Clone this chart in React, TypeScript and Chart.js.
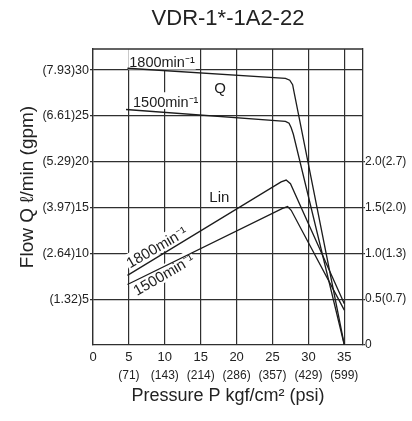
import React, { useEffect, useRef } from 'react';
import { Chart, registerables } from 'chart.js';

Chart.register(...registerables);

// ---- data ----
const pressureTicks = [0, 5, 10, 15, 20, 25, 30, 35];
const pressureLabels = ['0', '5', '10', '15', '20', '25', '30', '35'];
const psiLabels = ['', '(71)', '(143)', '(214)', '(286)', '(357)', '(429)', '(599)'];
const flowTicks = [5, 10, 15, 20, 25, 30];
const flowLabels = ['(1.32)5', '(2.64)10', '(3.97)15', '(5.29)20', '(6.61)25', '(7.93)30'];
const powerTicks = [0, 0.5, 1.0, 1.5, 2.0];
const powerLabels = ['0', '0.5(0.7)', '1.0(1.3)', '1.5(2.0)', '2.0(2.7)'];

// Flow Q (L/min) vs pressure (kgf/cm2)
const q1800P = [4.8, 26.8, 27.4, 27.8, 28.0, 35];
const q1800Q = [30.2, 29.1, 28.9, 28.4, 27.6, 0];
const q1500P = [4.6, 26.8, 27.3, 27.6, 27.9, 35];
const q1500Q = [25.7, 24.4, 24.2, 23.7, 23.0, 0];
// Input power Lin (kW) vs pressure
const lin1800P = [4.8, 26.2, 26.9, 27.5, 35];
const lin1800W = [0.76, 1.78, 1.8, 1.76, 0.45];
const lin1500P = [4.8, 26.4, 27.1, 27.6, 35];
const lin1500W = [0.66, 1.49, 1.51, 1.47, 0.38];

const X_MAX = 37.6;
const Y_MAX = 32.3;

const FONT = "'Liberation Sans', Arial, Helvetica, sans-serif";
const NARROW = "'Liberation Sans Narrow', 'Arial Narrow', 'Liberation Sans', Arial, sans-serif";
const INK = '#1c1c1c';
const GRID = '#2f2f2f';

const curveLabels = [
  { text: '1800min⁻¹', x: 5.05, y: 30.3, angle: 0, size: 14.5, bgTop: 1.3 },
  { text: '1500min⁻¹', x: 5.57, y: 26.0, angle: 0, size: 14.5, bgTop: 1.0 },
  { text: 'Q', x: 16.9, y: 27.5, angle: 0, size: 15, bgTop: 0.9 },
  { text: 'Lin', x: 16.2, y: 15.6, angle: 0, size: 15, bgTop: 0.9 },
  { text: '1800min⁻¹', x: 5.15, y: 8.35, angle: 30, size: 15, bgTop: 0.95 },
  { text: '1500min⁻¹', x: 6.13, y: 5.35, angle: 30, size: 15, bgTop: 0.95 },
];

const pts = (xs: number[], ys: number[]) => xs.map((x, i) => ({ x, y: ys[i] }));

const decorPlugin = {
  id: 'decor',
  beforeDatasetsDraw(chart: any) {
    const { ctx, chartArea, scales } = chart;
    ctx.save();
    for (const a of curveLabels) {
      const px = scales.x.getPixelForValue(a.x);
      const py = scales.y.getPixelForValue(a.y);
      ctx.save();
      ctx.translate(px, py);
      ctx.rotate((-a.angle * Math.PI) / 180);
      ctx.font = `${a.size}px ${NARROW}`;
      const w = ctx.measureText(a.text).width;
      ctx.fillStyle = '#ffffff';
      ctx.fillRect(-1, -a.size * a.bgTop, w + 2, a.size * (a.bgTop + 0.15));
      ctx.fillStyle = INK;
      ctx.textBaseline = 'alphabetic';
      ctx.textAlign = 'left';
      ctx.fillText(a.text, 0, 0);
      ctx.restore();
    }
    ctx.strokeStyle = GRID;
    ctx.lineWidth = 1.3;
    ctx.beginPath();
    ctx.moveTo(chartArea.left, chartArea.top);
    ctx.lineTo(chartArea.right, chartArea.top);
    ctx.stroke();
    ctx.restore();
  },
  afterDraw(chart: any) {
    const { ctx, chartArea } = chart;
    ctx.save();
    ctx.fillStyle = '#222';
    ctx.font = `22px ${FONT}`;
    ctx.textAlign = 'center';
    ctx.textBaseline = 'alphabetic';
    ctx.fillText('VDR-1*-1A2-22', (chartArea.left + chartArea.right) / 2, 25);
    ctx.translate(27.5, 187);
    ctx.rotate(-Math.PI / 2);
    ctx.font = `19px ${FONT}`;
    ctx.textBaseline = 'middle';
    ctx.fillText('Flow Q ℓ/min (gpm)', 0, 0);
    ctx.restore();
  },
};

export default function App() {
  const ref = useRef<HTMLCanvasElement | null>(null);
  useEffect(() => {
    if (!ref.current) return;
    const lineStyle = {
      borderColor: INK,
      borderWidth: 1.3,
      pointRadius: 0,
      tension: 0,
      fill: false,
    };
    const chart = new Chart(ref.current, {
      type: 'line',
      data: {
        datasets: [
          { label: 'Q 1800', data: pts(q1800P, q1800Q), yAxisID: 'y', ...lineStyle },
          { label: 'Q 1500', data: pts(q1500P, q1500Q), yAxisID: 'y', ...lineStyle },
          { label: 'Lin 1800', data: pts(lin1800P, lin1800W), yAxisID: 'y2', ...lineStyle },
          { label: 'Lin 1500', data: pts(lin1500P, lin1500W), yAxisID: 'y2', ...lineStyle },
        ],
      },
      options: {
        animation: false,
        responsive: false,
        devicePixelRatio: 1,
        layout: { padding: { top: 49, left: 0, right: 0, bottom: 0 } },
        plugins: { legend: { display: false }, tooltip: { enabled: false }, title: { display: false } },
        scales: {
          x: {
            type: 'linear',
            position: 'bottom',
            weight: 0,
            min: 0,
            max: X_MAX,
            afterBuildTicks: (s: any) => { s.ticks = pressureTicks.map((v) => ({ value: v })); },
            afterFit: (s: any) => { s.height = 22; },
            ticks: {
              autoSkip: false,
              maxRotation: 0,
              padding: 5,
              color: '#222',
              font: { family: FONT, size: 13 },
              callback: (v: any) => { const i = pressureTicks.indexOf(Number(v)); return i >= 0 ? pressureLabels[i] : ''; },
            },
            grid: { color: GRID, lineWidth: 1.2, drawTicks: false },
            border: { display: true, color: GRID, width: 1.3 },
          },
          x2: {
            type: 'linear',
            position: 'bottom',
            weight: 1,
            min: 0,
            max: X_MAX,
            afterBuildTicks: (s: any) => { s.ticks = pressureTicks.map((v) => ({ value: v })); },
            afterFit: (s: any) => { s.height = 54; },
            ticks: {
              autoSkip: false,
              maxRotation: 0,
              padding: 1,
              color: '#222',
              font: { family: FONT, size: 12 },
              callback: (v: any) => { const i = pressureTicks.indexOf(Number(v)); return i >= 0 ? psiLabels[i] : ''; },
            },
            grid: { display: false, drawTicks: false },
            border: { display: false },
            title: {
              display: true,
              text: 'Pressure P kgf/cm² (psi)',
              color: '#222',
              font: { family: FONT, size: 18 },
              padding: { top: 0, bottom: 14 },
            },
          },
          y: {
            type: 'linear',
            position: 'left',
            min: 0,
            max: Y_MAX,
            afterBuildTicks: (s: any) => { s.ticks = flowTicks.map((v) => ({ value: v })); },
            afterFit: (s: any) => { s.width = 93; },
            ticks: {
              autoSkip: false,
              padding: 1,
              color: '#222',
              font: { family: FONT, size: 12.5 },
              callback: (v: any) => { const i = flowTicks.indexOf(Number(v)); return i >= 0 ? flowLabels[i] : ''; },
            },
            grid: { color: GRID, lineWidth: 1.2, drawTicks: true, tickLength: 3 },
            border: { display: true, color: GRID, width: 1.3 },
          },
          y2: {
            type: 'linear',
            position: 'right',
            min: 0,
            max: Y_MAX / 10,
            afterBuildTicks: (s: any) => { s.ticks = powerTicks.map((v) => ({ value: v })); },
            afterFit: (s: any) => { s.width = 49; },
            ticks: {
              autoSkip: false,
              padding: 0,
              color: '#222',
              font: { family: FONT, size: 12 },
              callback: (v: any) => { const i = powerTicks.indexOf(Number(v)); return i >= 0 ? powerLabels[i] : ''; },
            },
            grid: { color: GRID, lineWidth: 1.2, drawOnChartArea: false, drawTicks: true, tickLength: 2 },
            border: { display: true, color: GRID, width: 1.3 },
          },
        },
      } as any,
      plugins: [decorPlugin],
    });
    return () => chart.destroy();
  }, []);
  return (
    <div style={{ position: 'absolute', left: 0, top: 0, width: 412, height: 421, background: '#fff' }}>
      <canvas ref={ref} width={412} height={421} style={{ display: 'block', width: 412, height: 421 }} />
    </div>
  );
}
